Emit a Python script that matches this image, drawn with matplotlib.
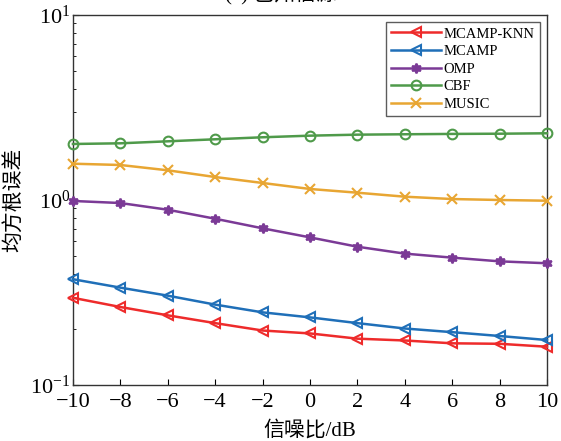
import matplotlib
matplotlib.use('Agg')
import matplotlib.pyplot as plt
import numpy as np

plt.rcParams['font.family'] = ['Liberation Serif', 'Noto Sans CJK SC']
plt.rcParams['mathtext.fontset'] = 'stix'

# SNR axis (dB)
snr = [-10, -8, -6, -4, -2, 0, 2, 4, 6, 8, 10]

# RMSE per method
mcamp_knn = [0.296, 0.264, 0.238, 0.216, 0.197, 0.190, 0.178, 0.174, 0.168, 0.167, 0.161]
mcamp = [0.373, 0.336, 0.304, 0.272, 0.247, 0.232, 0.216, 0.202, 0.193, 0.184, 0.175]
omp = [0.988, 0.963, 0.886, 0.792, 0.703, 0.628, 0.559, 0.513, 0.488, 0.466, 0.455]
cbf = [2.008, 2.025, 2.076, 2.129, 2.183, 2.227, 2.255, 2.266, 2.276, 2.282, 2.294]
music = [1.571, 1.546, 1.447, 1.331, 1.236, 1.147, 1.095, 1.042, 1.012, 1.000, 0.991]

series = [
    ('MCAMP-KNN', mcamp_knn, '#ee2b2b', '<', 'none'),
    ('MCAMP', mcamp, '#1f6fb8', '<', 'none'),
    ('OMP', omp, '#7b3a96', (6, 1, 0), None),
    ('CBF', cbf, '#4f9a4a', 'o', 'none'),
    ('MUSIC', music, '#e8a633', 'x', None),
]

fig = plt.figure(figsize=(5.61, 4.41), dpi=100)
ax = fig.add_axes([0.130, 0.127, 0.845, 0.839])

for name, vals, col, mk, mfc in series:
    kw = dict(color=col, marker=mk, markersize=7, linewidth=1.8,
              markeredgewidth=1.5, label=name, clip_on=False, zorder=3)
    if mfc is not None:
        kw['markerfacecolor'] = mfc
    ax.plot(snr, vals, **kw)

ax.set_yscale('log')
ax.set_ylim(0.1, 10)
ax.set_xlim(-10, 10)
ax.set_xticks(snr)
ax.set_xticklabels([str(v).replace('-', '\u2212') for v in snr])
ax.tick_params(axis='both', which='both', direction='in', labelsize=16,
               top=False, right=False)
ax.tick_params(axis='y', which='major', length=4, pad=2)
ax.tick_params(axis='y', which='minor', length=2)
ax.tick_params(axis='x', which='major', length=4, pad=6)
for s in ax.spines.values():
    s.set_linewidth(1.0)
    s.set_color('#333333')

ax.set_xlabel('信噪比/dB', fontsize=15, labelpad=6)
ax.set_ylabel('均方根误差', fontsize=15, labelpad=4)

leg = ax.legend(loc='upper right', fontsize=10.5, frameon=True, fancybox=False,
                edgecolor='#333333', handlelength=3.4, handletextpad=0.2,
                borderpad=0.35, labelspacing=0.3, borderaxespad=0.5)
leg.get_frame().set_linewidth(1.0)

# clipped caption at the top edge
fig.text(0.5, 1.012, '(a) 已知信源', ha='center', va='center', fontsize=15)

fig.savefig('out.png', dpi=100)
